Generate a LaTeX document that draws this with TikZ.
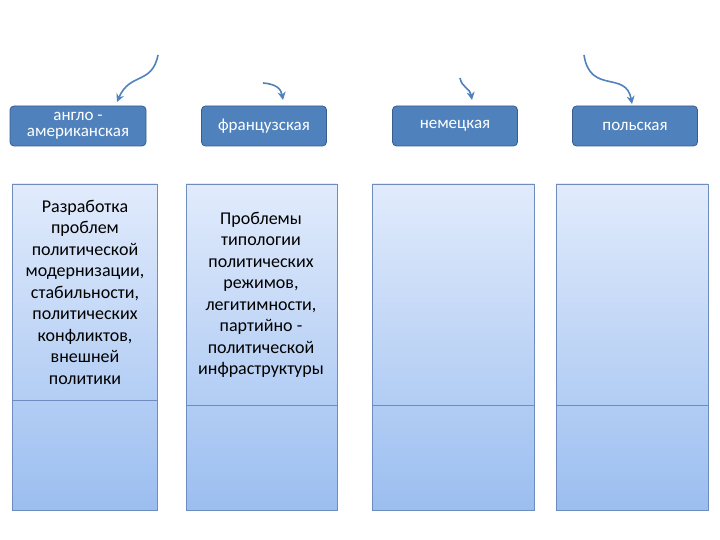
\documentclass[tikz,border=0pt]{standalone}
\usepackage{fontspec}
\setmainfont{Carlito}
\usetikzlibrary{arrows.meta}
\definecolor{hdr}{RGB}{79,129,189}
\definecolor{hdrd}{RGB}{56,93,138}
\definecolor{coltop}{RGB}{225,235,252}
\definecolor{colbot}{RGB}{155,190,240}
\definecolor{colline}{RGB}{110,140,190}
\tikzset{
  hbox/.style={draw=hdrd, fill=hdr, rounded corners=4pt, line width=0.8pt, text=white, font=\fontsize{17}{16}\selectfont, align=center, minimum height=40pt, inner sep=1pt},
  colbox/.style={draw=colline, top color=coltop, bottom color=colbot, line width=0.6pt},
  arr/.style={draw=hdr, line width=1.6pt, -{Stealth[length=8pt,width=8pt]}},
  ctext/.style={font=\fontsize{18}{21.5}\selectfont, align=center}
}
\begin{document}
\begin{tikzpicture}[x=1pt,y=1pt]
\useasboundingbox (0,0) rectangle (720,540);
% columns
\path[colbox] (12,356) rectangle (157,30);
\draw[colline] (12,140) -- (157,140);
\path[colbox] (186,356) rectangle (337,30);
\draw[colline] (186,135) -- (337,135);
\path[colbox] (372,356) rectangle (534,30);
\draw[colline] (372,135) -- (534,135);
\path[colbox] (556,356) rectangle (708,30);
\draw[colline] (556,135) -- (708,135);
% headers
\node[hbox, minimum width=136pt] (h1) at (78,414) {англо -\\американская};
\node[hbox, minimum width=125pt] (h2) at (264,414) {французская};
\node[hbox, minimum width=125pt] (h3) at (455,414) {немецкая};
\node[hbox, minimum width=125pt] (h4) at (635,414) {польская};
% texts
\node[ctext] (t1) at (85,248) {Разработка\\проблем\\политической\\модернизации,\\стабильности,\\политических\\конфликтов,\\внешней\\политики};
\node[ctext] (t2) at (261,245) {Проблемы\\типологии\\политических\\режимов,\\легитимности,\\партийно -\\политической\\инфраструктуры};
% arrows
\coordinate (a1) at (158,485);
\coordinate (e1) at (117,438);
\coordinate (a2) at (263,457);
\coordinate (e2) at (283,440);
\coordinate (a3) at (460,462);
\coordinate (e3) at (472,440);
\coordinate (a4) at (584,485);
\coordinate (e4) at (632,436);
\draw[arr] (a1) .. controls (152,455) and (130,468) .. (e1);
\draw[arr] (a2) .. controls (275,456) and (281,452) .. (e2);
\draw[arr] (a3) .. controls (462,452) and (470,452) .. (e3);
\draw[arr] (a4) .. controls (590,445) and (626,470) .. (e4);
\end{tikzpicture}
\end{document}
